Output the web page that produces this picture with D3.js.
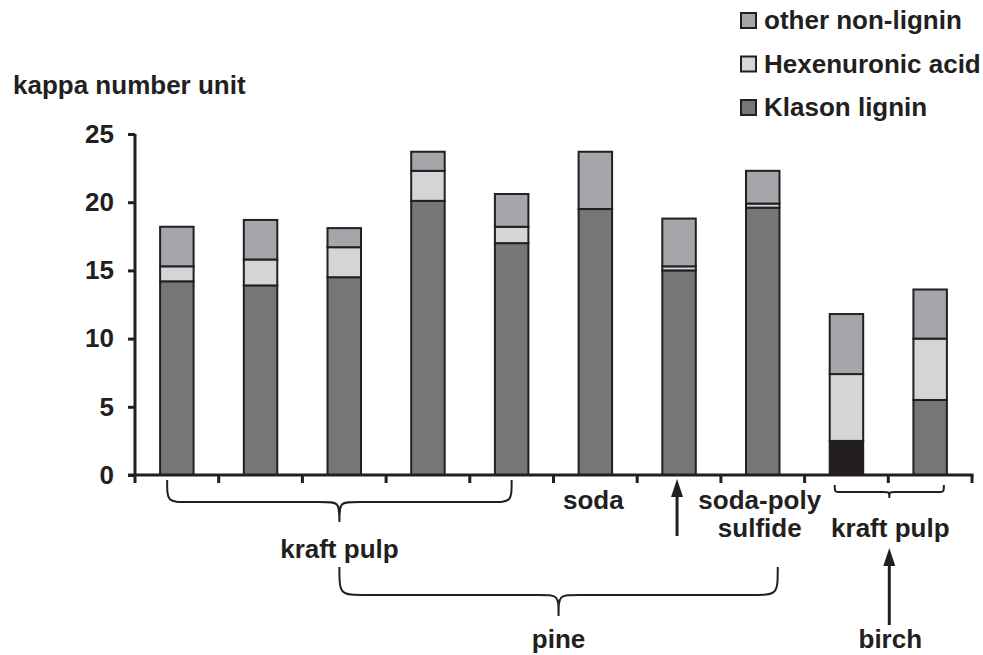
<!DOCTYPE html>
<html>
<head>
<meta charset="utf-8">
<script src="https://cdn.jsdelivr.net/npm/d3@7"></script>
<style>
  html, body { margin: 0; padding: 0; background: #fff; }
  svg { display: block; }
  text { font-family: "Liberation Sans", Arial, sans-serif; font-weight: bold; fill: #231f20; }
</style>
</head>
<body>
<svg id="chart" width="983" height="655"></svg>
<script>
// Pulp samples, left to right
const samples = ["pine-k1", "pine-k2", "pine-k3", "pine-k4", "pine-k5",
                 "pine-soda", "pine-k6", "pine-sps", "birch-k1", "birch-k2"];

// Contributions to the kappa number (kappa number units)
const klasonLignin     = [14.2, 13.9, 14.5, 20.1, 17.0, 19.5, 15.0, 19.6, 2.5, 5.5];
const hexenuronicAcid  = [1.1, 1.9, 2.2, 2.2, 1.2, 0.0, 0.3, 0.3, 4.9, 4.5];
const otherNonLignin   = [2.9, 2.9, 1.4, 1.4, 2.4, 4.2, 3.5, 2.4, 4.4, 3.6];

const yTicks = [0, 5, 10, 15, 20, 25];
const yLabel = "kappa number unit";
const legendLabels = ["other non-lignin", "Hexenuronic acid", "Klason lignin"];

// ---- styling ----
const ink = "#231f20";
const fontSize = 26;
const colors = { klason: "#757678", hexa: "#d5d5d7", other: "#a5a6a9" };
const darkKlasonSample = "birch-k1";

const svg = d3.select("#chart");

const x = d3.scaleBand().domain(samples).range([135, 972]).paddingInner(0.6).paddingOuter(0.3);
const y = d3.scaleLinear().domain([0, 25]).range([475, 134]);

// stacked series
const rows = samples.map((s, i) => ({
  sample: s, klason: klasonLignin[i], hexa: hexenuronicAcid[i], other: otherNonLignin[i]
}));
const keys = ["klason", "hexa", "other"];
const series = d3.stack().keys(keys)(rows);

const bars = svg.append("g");
series.forEach(layer => {
  bars.selectAll(null)
    .data(layer.filter(d => d[1] - d[0] > 0))
    .join("rect")
    .attr("x", d => x(d.data.sample))
    .attr("width", x.bandwidth())
    .attr("y", d => y(d[1]))
    .attr("height", d => y(d[0]) - y(d[1]))
    .attr("fill", d => (layer.key === "klason" && d.data.sample === darkKlasonSample) ? ink : colors[layer.key])
    .attr("stroke", ink)
    .attr("stroke-width", 2);
});

// y axis
const yAxis = svg.append("g").attr("transform", "translate(135,0)")
  .call(d3.axisLeft(y).tickValues(yTicks).tickSize(7).tickPadding(14).tickFormat(d3.format("d")));
yAxis.select(".domain").attr("d", `M0,${y(25)}V${y(0)}`).attr("stroke", ink).attr("stroke-width", 3);
yAxis.selectAll(".tick line").attr("stroke", ink).attr("stroke-width", 3);
yAxis.selectAll(".tick text").attr("font-size", fontSize).attr("font-family", null).style("fill", ink);

// x axis: baseline with ticks at the category boundaries
const x0 = x.range()[0], x1 = x.range()[1];
const xAxis = svg.append("g");
xAxis.append("line").attr("x1", x0 - 7).attr("x2", x1 + 1.5).attr("y1", y(0)).attr("y2", y(0))
  .attr("stroke", ink).attr("stroke-width", 3);
xAxis.selectAll(null).data(d3.range(samples.length + 1)).join("line")
  .attr("x1", i => x0 + i * x.step()).attr("x2", i => x0 + i * x.step())
  .attr("y1", y(0)).attr("y2", y(0) + 8)
  .attr("stroke", ink).attr("stroke-width", 3);

// y axis title
svg.append("text").attr("x", 13).attr("y", 94).attr("font-size", fontSize).text(yLabel);

// legend
const legendKeys = ["other", "hexa", "klason"];
const legend = svg.append("g");
legendLabels.forEach((lab, i) => {
  const base = 29 + i * 43.5;
  legend.append("rect").attr("x", 741).attr("y", base - 16).attr("width", 15).attr("height", 15)
    .attr("fill", colors[legendKeys[i]]).attr("stroke", ink).attr("stroke-width", 2);
  legend.append("text").attr("x", 764).attr("y", base).attr("font-size", fontSize).text(lab);
});

// ---- group annotations ----
const cx = s => x(s) + x.bandwidth() / 2;
const ann = svg.append("g").attr("fill", "none").attr("stroke", ink).attr("stroke-width", 2);

// curly brace opening downward: ends at yTop, bar at yBar, tip at yTip
function brace(xa, xb, yTop, yBar, yTip, r) {
  const xm = (xa + xb) / 2;
  const r2 = Math.min(r, (yTip - yBar));
  return `M${xa},${yTop} C${xa},${yBar} ${xa},${yBar} ${xa + r},${yBar}` +
         ` L${xm - r2},${yBar} C${xm},${yBar} ${xm},${yBar} ${xm},${yTip}` +
         ` C${xm},${yBar} ${xm},${yBar} ${xm + r2},${yBar}` +
         ` L${xb - r},${yBar} C${xb},${yBar} ${xb},${yBar} ${xb},${yTop}`;
}

function label(xc, yb, txt) {
  svg.append("text").attr("x", xc).attr("y", yb).attr("text-anchor", "middle").attr("font-size", fontSize).text(txt);
}

function arrowUp(xc, yFrom, yTo) {
  ann.append("line").attr("x1", xc).attr("x2", xc).attr("y1", yFrom).attr("y2", yTo + 12).attr("stroke-width", 3);
  svg.append("path").attr("d", `M${xc},${yTo} L${xc - 6},${yTo + 18} L${xc + 6},${yTo + 18} Z`).attr("fill", ink);
}

// pine kraft pulps
const kA = x("pine-k1") - 3 + x.bandwidth() * 0.3, kB = cx("pine-k5");
ann.append("path").attr("d", brace(kA, kB, 480, 502, 522, 22));
label((kA + kB) / 2, 558, "kraft pulp");

// pine group brace, from the kraft pulp label across to the polysulfide pulp
const pA = (kA + kB) / 2, pB = cx("pine-sps") + 15;
ann.append("path").attr("d", brace(pA, pB, 567, 595, 616, 28));
label((pA + pB) / 2, 648, "pine");

label(cx("pine-soda") - 2, 509, "soda");
arrowUp(cx("pine-k6") - 2, 536, 479);
label(cx("pine-sps") - 3, 509, "soda-poly");
label(cx("pine-sps") - 3, 537, "sulfide");

// birch kraft pulps
const bA = x("birch-k1") + 5, bB = x("birch-k2") + x.bandwidth() - 3;
ann.append("path").attr("d", brace(bA, bB, 485, 492, 498, 6));
label((bA + bB) / 2 + 1, 537, "kraft pulp");
arrowUp((bA + bB) / 2, 625, 548);
label((bA + bB) / 2 + 1, 648, "birch");
</script>
</body>
</html>
